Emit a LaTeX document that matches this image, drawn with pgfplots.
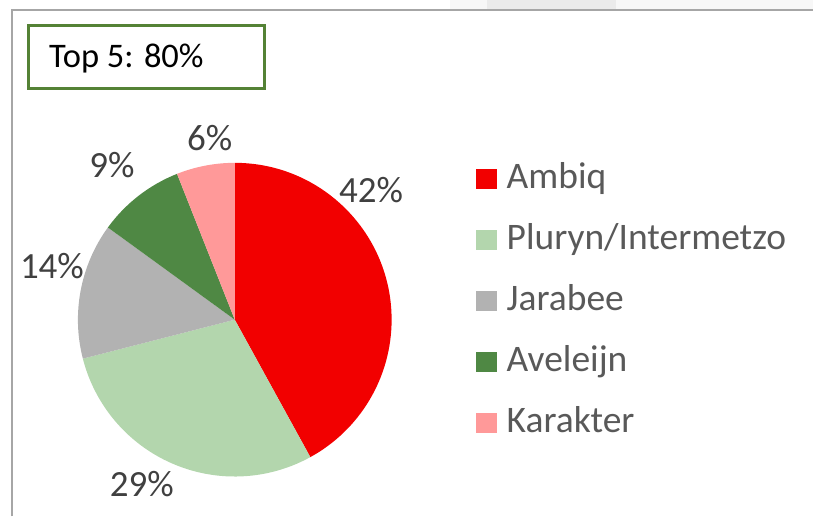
\documentclass[border=0pt]{standalone}
\usepackage{fontspec}
\setmainfont{Carlito}
\usepackage{pgfplots}
\pgfplotsset{compat=1.18}
\definecolor{cAmbiq}{HTML}{F20000}
\definecolor{cPluryn}{HTML}{B3D6AD}
\definecolor{cJarabee}{HTML}{B2B2B2}
\definecolor{cAveleijn}{HTML}{4F8844}
\definecolor{cKarakter}{HTML}{FF9999}
\definecolor{framegrey}{HTML}{A6A6A6}
\definecolor{boxgreen}{HTML}{548235}
\definecolor{labeltext}{HTML}{404040}
\definecolor{legtext}{HTML}{595959}

\begin{document}
\begin{tikzpicture}
\begin{axis}[
  width=814bp, height=517bp, scale only axis,
  xmin=0, xmax=814, ymin=0, ymax=517,
  hide axis, clip=false,
]
% keep the whole canvas in the bounding box
\path (axis cs:0,0) rectangle (axis cs:814,517);
% faint strip above the chart frame
\fill[black!3] (axis cs:450,507) rectangle (axis cs:814,517);
\fill[black!8] (axis cs:487,507) rectangle (axis cs:617,517);
\draw[framegrey, line width=1.6bp] (axis cs:12,0) -- (axis cs:12,507) -- (axis cs:814,507);

% share in percent / colour / name / label x / label baseline y / legend row
\xdef\runtot{0}
\foreach \v/\c/\n/\lx/\ly/\row in {
  42/cAmbiq/Ambiq/371.5/314/0,
  29/cPluryn/Pluryn\slash Intermetzo/142/20/1,
  14/cJarabee/Jarabee/52/238/2,
  9/cAveleijn/Aveleijn/112/339/3,
  6/cKarakter/Karakter/210/366/4} {
  \pgfmathsetmacro\sa{90-3.6*\runtot}
  \pgfmathsetmacro\ea{90-3.6*(\runtot+\v)}
  \pgfmathsetmacro\newtot{\runtot+\v}
  \xdef\runtot{\newtot}
  \pgfmathsetmacro\legy{338-61*\row}
  \edef\temp{%
    \noexpand\fill[\c] (axis cs:235,197) -- ++(\sa:157bp)
      arc[start angle=\sa, end angle=\ea, radius=157bp] -- cycle;
    \noexpand\node[anchor=base, inner sep=0pt, font=\noexpand\fontsize{37bp}{40bp}\noexpand\selectfont,
      text=labeltext] at (axis cs:\lx,\ly) {\v\noexpand\%};
    \noexpand\fill[\c] (axis cs:476,\legy-10) rectangle (axis cs:497,\legy+10);
    \noexpand\node[anchor=base west, inner sep=0pt, font=\noexpand\fontsize{37.5bp}{40bp}\noexpand\selectfont,
      text=legtext] at (axis cs:507,\legy-10) {\n};
  }\temp
}

% Top 5 box
\draw[boxgreen, line width=3bp, fill=white] (axis cs:29,428) rectangle (axis cs:265,491);
\node[anchor=base west, inner sep=0pt, font=\fontsize{34.5bp}{38bp}\selectfont]
  at (axis cs:49,449) {Top 5: 80\%};
\end{axis}
\end{tikzpicture}
\end{document}
